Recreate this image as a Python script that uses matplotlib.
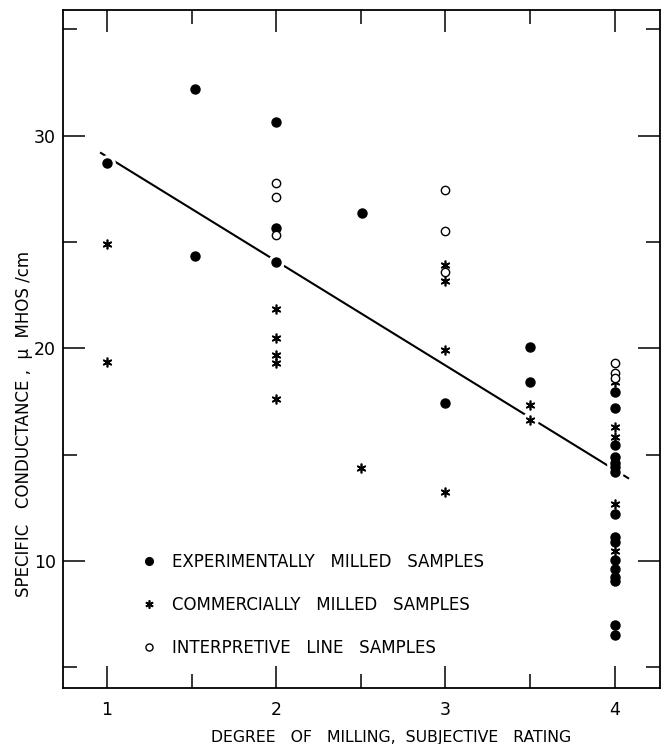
"""
Specific conductance vs. degree of milling.
Scatter of three sample groups with a hand-drawn interpretive line.
"""

import matplotlib
matplotlib.use("Agg")
import matplotlib.pyplot as plt
from matplotlib.ticker import MultipleLocator

# --- data ---
exp_x = [1, 1.52, 1.52, 2, 2, 2, 2.51, 3, 3.5, 3.5,
         4, 4, 4, 4, 4, 4, 4, 4, 4, 4, 4, 4, 4, 4, 4, 4]
exp_y = [28.73, 32.18, 24.35, 30.67, 25.64, 24.04, 26.39, 17.45, 20.07, 18.42,
         17.94, 17.19, 15.46, 14.88, 14.63, 14.44, 14.17, 12.20, 11.12, 10.91,
         10.05, 9.61, 9.23, 9.07, 6.99, 6.52]

com_x = [1, 1, 2, 2, 2, 2, 2, 2.5, 3, 3, 3, 3, 3.5, 3.5, 4, 4, 4, 4, 4]
com_y = [24.9, 19.35, 21.86, 20.51, 19.69, 19.30, 17.61, 14.39, 23.90, 23.18,
         19.93, 13.23, 17.34, 16.64, 18.44, 16.29, 15.85, 12.68, 10.49]

int_x = [2, 2, 2, 3, 3, 3, 4, 4, 4]
int_y = [27.80, 27.14, 25.34, 27.46, 25.53, 23.57, 19.30, 18.83, 18.60]

line_x = [0.965, 4.08]
line_y = [29.19, 13.90]

labels = ["EXPERIMENTALLY   MILLED   SAMPLES",
          "COMMERCIALLY   MILLED   SAMPLES",
          "INTERPRETIVE   LINE   SAMPLES"]

# --- figure ---
fig = plt.figure(figsize=(6.69, 7.44), dpi=100)
ax = fig.add_axes([0.094, 0.075, 0.893, 0.912])

# interpretive line, broken around the points by white halos
ax.plot(line_x, line_y, color="black", lw=1.5, zorder=2)
all_x = exp_x + com_x + int_x
all_y = exp_y + com_y + int_y
ax.plot(all_x, all_y, ls="none", marker="o", ms=11, mfc="white", mec="white", zorder=2.5)

asterisk = (6, 2, 0)
ax.plot(exp_x, exp_y, ls="none", marker="o", ms=6.5, color="black", zorder=3,
        label=labels[0])
ax.plot(com_x, com_y, ls="none", marker=asterisk, ms=7, mew=1.2, color="black",
        zorder=3, label=labels[1])
ax.plot(int_x, int_y, ls="none", marker="o", ms=6, mfc="white", mec="black",
        mew=1.0, zorder=3, label=labels[2])

# axes and ticks
ax.set_xlim(0.74, 4.27)
ax.set_ylim(4.02, 35.93)
ax.xaxis.set_major_locator(MultipleLocator(1))
ax.xaxis.set_minor_locator(MultipleLocator(0.5))
ax.yaxis.set_major_locator(MultipleLocator(10))
ax.yaxis.set_minor_locator(MultipleLocator(5))
ax.set_xticks([1, 2, 3, 4])
ax.set_xticklabels(["1", "2", "3", "4"])
ax.tick_params(which="both", direction="in", top=True, right=True,
               width=1.1, labelsize=12.5, color="black")
ax.tick_params(which="major", length=16)
ax.tick_params(axis="x", which="major", pad=9)
ax.tick_params(axis="y", which="major", pad=5)
ax.tick_params(which="minor", length=10)
for s in ax.spines.values():
    s.set_linewidth(1.3)

ax.set_xlabel("DEGREE   OF   MILLING,  SUBJECTIVE   RATING", fontsize=11.3)
ax.xaxis.set_label_coords(0.55, -0.062)
ax.set_ylabel("SPECIFIC   CONDUCTANCE ,  \u03bc  MHOS /cm", fontsize=12)
ax.yaxis.set_label_coords(-0.05, 0.39)

ax.legend(loc="upper left", bbox_to_anchor=(0.105, 0.222), frameon=False,
          fontsize=12, handlelength=1.0, handletextpad=0.9,
          labelspacing=1.5, markerscale=0.85)

fig.savefig("out.png", dpi=100)
